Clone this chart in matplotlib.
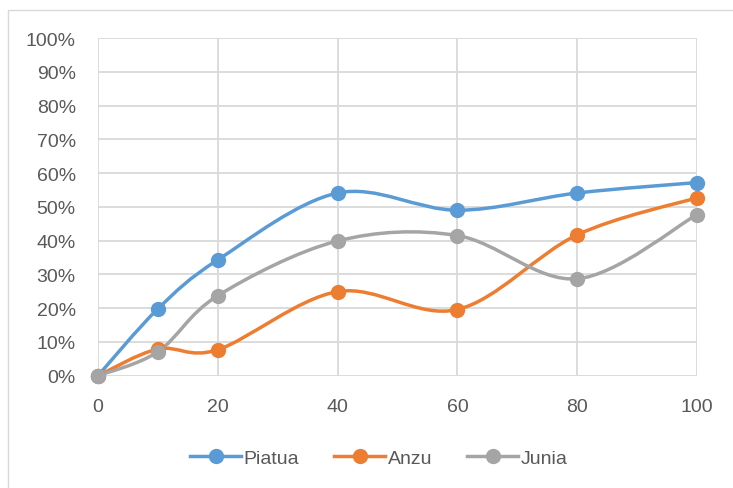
import matplotlib
matplotlib.use("Agg")
import matplotlib.pyplot as plt
import numpy as np
from matplotlib.path import Path
from matplotlib.patches import PathPatch, Rectangle
from matplotlib.lines import Line2D
from matplotlib.ticker import FuncFormatter

plt.rcParams['font.family'] = ['Liberation Sans', 'DejaVu Sans']

x = [0, 10, 20, 40, 60, 80, 100]
piatua = [0.0, 0.198, 0.343, 0.541, 0.490, 0.541, 0.572]
anzu = [0.0, 0.079, 0.077, 0.249, 0.196, 0.417, 0.527]
junia = [0.0, 0.071, 0.237, 0.399, 0.415, 0.287, 0.477]

names = ['Piatua', 'Anzu', 'Junia']
colors = ['#5B9BD5', '#ED7D31', '#A5A5A5']
text_col = '#595959'
grid_col = '#D9D9D9'


def smooth_path(xs, ys):
    # cubic bezier segments with catmull-rom style control points
    p = np.column_stack([xs, ys]).astype(float)
    n = len(p)
    verts = [p[0]]
    codes = [Path.MOVETO]
    for i in range(n - 1):
        p0 = p[i - 1] if i > 0 else p[i]
        p3 = p[i + 2] if i + 2 < n else p[i + 1]
        c1 = p[i] + (p[i + 1] - p0) / 6.0
        c2 = p[i + 1] - (p3 - p[i]) / 6.0
        verts += [c1, c2, p[i + 1]]
        codes += [Path.CURVE4] * 3
    return Path(verts, codes)


fig = plt.figure(figsize=(7.33, 4.89), dpi=100)
fig.patch.set_facecolor('white')
ax = fig.add_axes([98 / 733, 1 - 376.7 / 489, (697 - 98) / 733, (376.7 - 39) / 489])

# outer chart border
fig.patches.append(Rectangle((7.5 / 733, -0.1), 1.0, 1 - 10.5 / 489 + 0.1,
                             transform=fig.transFigure, fill=False,
                             edgecolor=grid_col, linewidth=1.0))

for ys, c in zip([piatua, anzu, junia], colors):
    ax.add_patch(PathPatch(smooth_path(x, ys), facecolor='none', edgecolor=c,
                           linewidth=2.5, capstyle='round', joinstyle='round',
                           zorder=3))
    ax.plot(x, ys, linestyle='none', marker='o', markersize=10,
            color=c, markeredgecolor=c, zorder=4, clip_on=False)

ax.set_xlim(0, 100)
ax.set_ylim(0, 1.0)
ax.set_xticks([0, 20, 40, 60, 80, 100])
ax.set_yticks(np.arange(0, 1.01, 0.1))
ax.yaxis.set_major_formatter(FuncFormatter(lambda v, _: f'{v * 100:.0f}%'))
ax.grid(True, color=grid_col, linewidth=1.3)
ax.set_axisbelow(True)
for s in ax.spines.values():
    s.set_visible(False)
ax.tick_params(length=0, labelsize=14, labelcolor=text_col)
ax.tick_params(axis='y', pad=16)
ax.tick_params(axis='x', pad=16)

handles = [Line2D([0], [0], color=c, linewidth=2.5, marker='o', markersize=10)
           for c in colors]
fig.legend(handles, names, loc='center', bbox_to_anchor=(379 / 733, 1 - 459 / 489),
           ncol=3, frameon=False, fontsize=14, labelcolor=text_col,
           handlelength=2.6, handletextpad=0.15, columnspacing=1.8)

fig.savefig('out.png', dpi=100)
